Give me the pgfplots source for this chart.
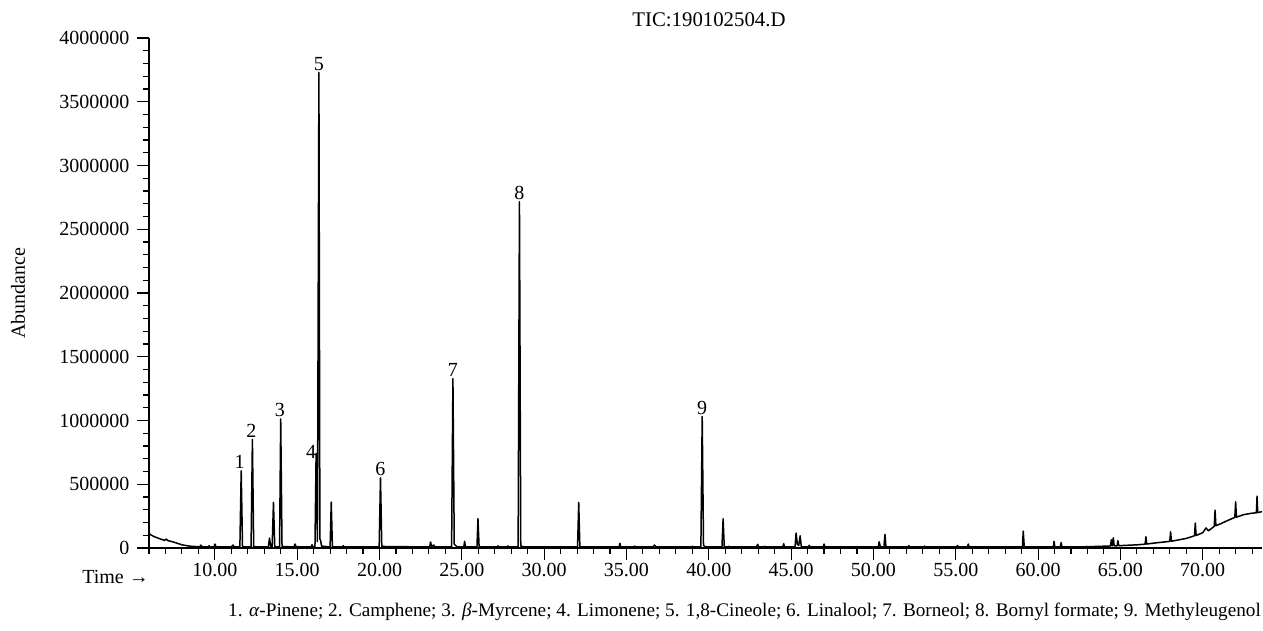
\documentclass[border=0pt]{standalone}
\usepackage{pgfplots}
\pgfplotsset{compat=1.18}
\usepackage{fontspec}
\setmainfont{Liberation Serif}
\begin{document}
\begin{tikzpicture}[font=\fontsize{20}{24}\selectfont]
\useasboundingbox (-149pt,-83pt) rectangle (1114pt,548pt);
\begin{axis}[
  scale only axis, width=1113pt, height=510pt,
  xmin=6, xmax=73.6, ymin=0, ymax=4000000,
  axis x line*=bottom, axis y line*=left,
  axis line style={-, line width=1.2pt},
  tick align=outside,
  major tick length=12pt, minor tick length=6pt,
  every tick/.style={black, line width=1.1pt},
  xtick={10,15,...,70},
  xticklabels={10.00,15.00,20.00,25.00,30.00,35.00,40.00,45.00,50.00,55.00,60.00,65.00,70.00},
  minor xtick={6,7,...,73},
  ytick={0,500000,...,4000000},
  yticklabels={0,500000,1000000,1500000,2000000,2500000,3000000,3500000,4000000},
  yticklabel style={xshift=-4pt},
  minor ytick={100000,200000,...,3900000},
  scaled y ticks=false,
  clip=false,
]
\addplot[black, line width=1.5pt, line join=round] coordinates {
(6.00,115000) (6.15,100000) (6.3,90000) (6.5,80000) (6.7,70000) (6.95,60000) (7.05,70000) (7.15,58000)
(7.4,50000) (7.7,38000) (8.0,25000) (8.3,18000) (8.6,13000) (9.0,10000) (9.1,10000) (9.15,23000) (9.2,10000)
(9.6,9000) (9.65,18000) (9.7,9000) (9.95,9000) (10.0,31000) (10.08,9000) (11.0,8000) (11.1,23000) (11.18,8000)
(11.52,8000) (11.6,605000) (11.68,10000)
(12.2,8000) (12.28,851000) (12.36,10000)
(13.25,8000) (13.32,78000) (13.4,8000)
(13.48,8000) (13.56,358000) (13.64,10000)
(13.93,8000) (14.0,1012000) (14.08,12000)
(14.8,8000) (14.87,31000) (14.94,8000)
(15.85,8000) (15.9,26000) (15.95,8000)
(16.08,8000) (16.15,741000) (16.23,50000) (16.32,3730000) (16.38,70000) (16.42,62000) (16.48,15000)
(17.0,8000) (17.07,360000) (17.14,8000)
(17.75,8000) (17.8,18000) (17.85,8000)
(19.98,8000) (20.06,550000) (20.14,12000)
(23.05,8000) (23.1,47000) (23.18,10000) (23.3,23000) (23.36,8000)
(24.38,8000) (24.46,1328000) (24.54,30000) (24.7,10000)
(25.12,8000) (25.17,52000) (25.22,8000)
(25.92,8000) (25.98,230000) (26.05,8000)
(27.15,8000) (27.2,16000) (27.25,8000)
(27.75,8000) (27.8,16000) (27.85,8000)
(28.42,8000) (28.5,2716000) (28.58,15000) (28.8,8000)
(32.03,8000) (32.1,358000) (32.17,8000)
(34.55,8000) (34.6,37000) (34.65,8000)
(35.45,8000) (35.5,15000) (35.55,8000)
(36.6,8000) (36.7,23000) (36.8,8000)
(38.95,8000) (39.0,14000) (39.05,8000)
(39.52,8000) (39.6,1031000) (39.68,20000) (39.8,8000)
(40.8,8000) (40.87,230000) (40.94,8000)
(41.15,8000) (41.2,13000) (41.25,8000)
(42.9,8000) (42.97,29000) (43.04,8000)
(43.35,8000) (43.4,14000) (43.45,8000)
(44.5,8000) (44.55,34000) (44.6,8000)
(45.24,8000) (45.3,117000) (45.38,30000) (45.46,20000) (45.55,96000) (45.62,8000)
(46.05,8000) (46.1,21000) (46.15,8000)
(46.95,8000) (47.0,31000) (47.05,8000)
(50.3,8000) (50.35,49000) (50.42,8000)
(50.64,8000) (50.7,107000) (50.76,8000)
(52.1,8000) (52.15,18000) (52.2,8000)
(53.05,8000) (53.1,15000) (53.15,8000)
(55.05,8000) (55.1,20000) (55.15,8000)
(55.71,8000) (55.76,31000) (55.81,8000)
(59.05,8000) (59.1,133000) (59.16,8000)
(60.92,8000) (60.97,52000) (61.02,8000)
(61.35,8000) (61.4,42000) (61.45,8000)
(63.0,10000) (64.0,14000) (64.4,16000) (64.45,65000) (64.5,17000) (64.57,80000) (64.62,17000)
(64.8,17000) (64.85,57000) (64.9,18000)
(66.0,25000) (66.5,30000) (66.55,88000) (66.6,31000) (67.0,38000)
(68.0,52000) (68.05,128000) (68.1,53000)
(69.0,75000) (69.5,96000) (69.55,196000) (69.6,98000)
(70.0,120000) (70.2,157000) (70.35,135000)
(70.7,170000) (70.75,297000) (70.8,175000)
(71.0,185000) (71.5,215000) (71.95,240000) (72.0,362000) (72.05,242000)
(72.5,262000) (73.0,273000) (73.26,276000) (73.3,407000) (73.34,278000) (73.6,285000)
};
\node[anchor=south, inner sep=2pt] at (axis cs:11.5,605000) {1};
\node[anchor=south, inner sep=2pt] at (axis cs:12.22,851000) {2};
\node[anchor=south, inner sep=2pt] at (axis cs:13.95,1012000) {3};
\node[anchor=south east, inner sep=0pt] at (axis cs:16.17,700000) {4};
\node[anchor=south, inner sep=2pt] at (axis cs:16.32,3730000) {5};
\node[anchor=south, inner sep=2pt] at (axis cs:20.06,550000) {6};
\node[anchor=south, inner sep=2pt] at (axis cs:24.46,1328000) {7};
\node[anchor=south, inner sep=2pt] at (axis cs:28.5,2716000) {8};
\node[anchor=south, inner sep=2pt] at (axis cs:39.6,1031000) {9};
\end{axis}
\node[font=\fontsize{20.8}{24}\selectfont] at (560pt,528pt) {TIC:190102504.D};
\node[rotate=90, font=\fontsize{20}{24}\selectfont] at (-131pt,255pt) {Abundance};
\node[anchor=east, inner sep=0pt] at (0pt,-29pt) {Time →};
\node[anchor=east, inner sep=0pt, font=\fontsize{19.2}{23}\selectfont] at (1112pt,-64pt) {1. \textit{α}-Pinene; 2. Camphene; 3. \textit{β}-Myrcene; 4. Limonene; 5. 1,8-Cineole; 6. Linalool; 7. Borneol; 8. Bornyl formate; 9. Methyleugenol};
\end{tikzpicture}
\end{document}
